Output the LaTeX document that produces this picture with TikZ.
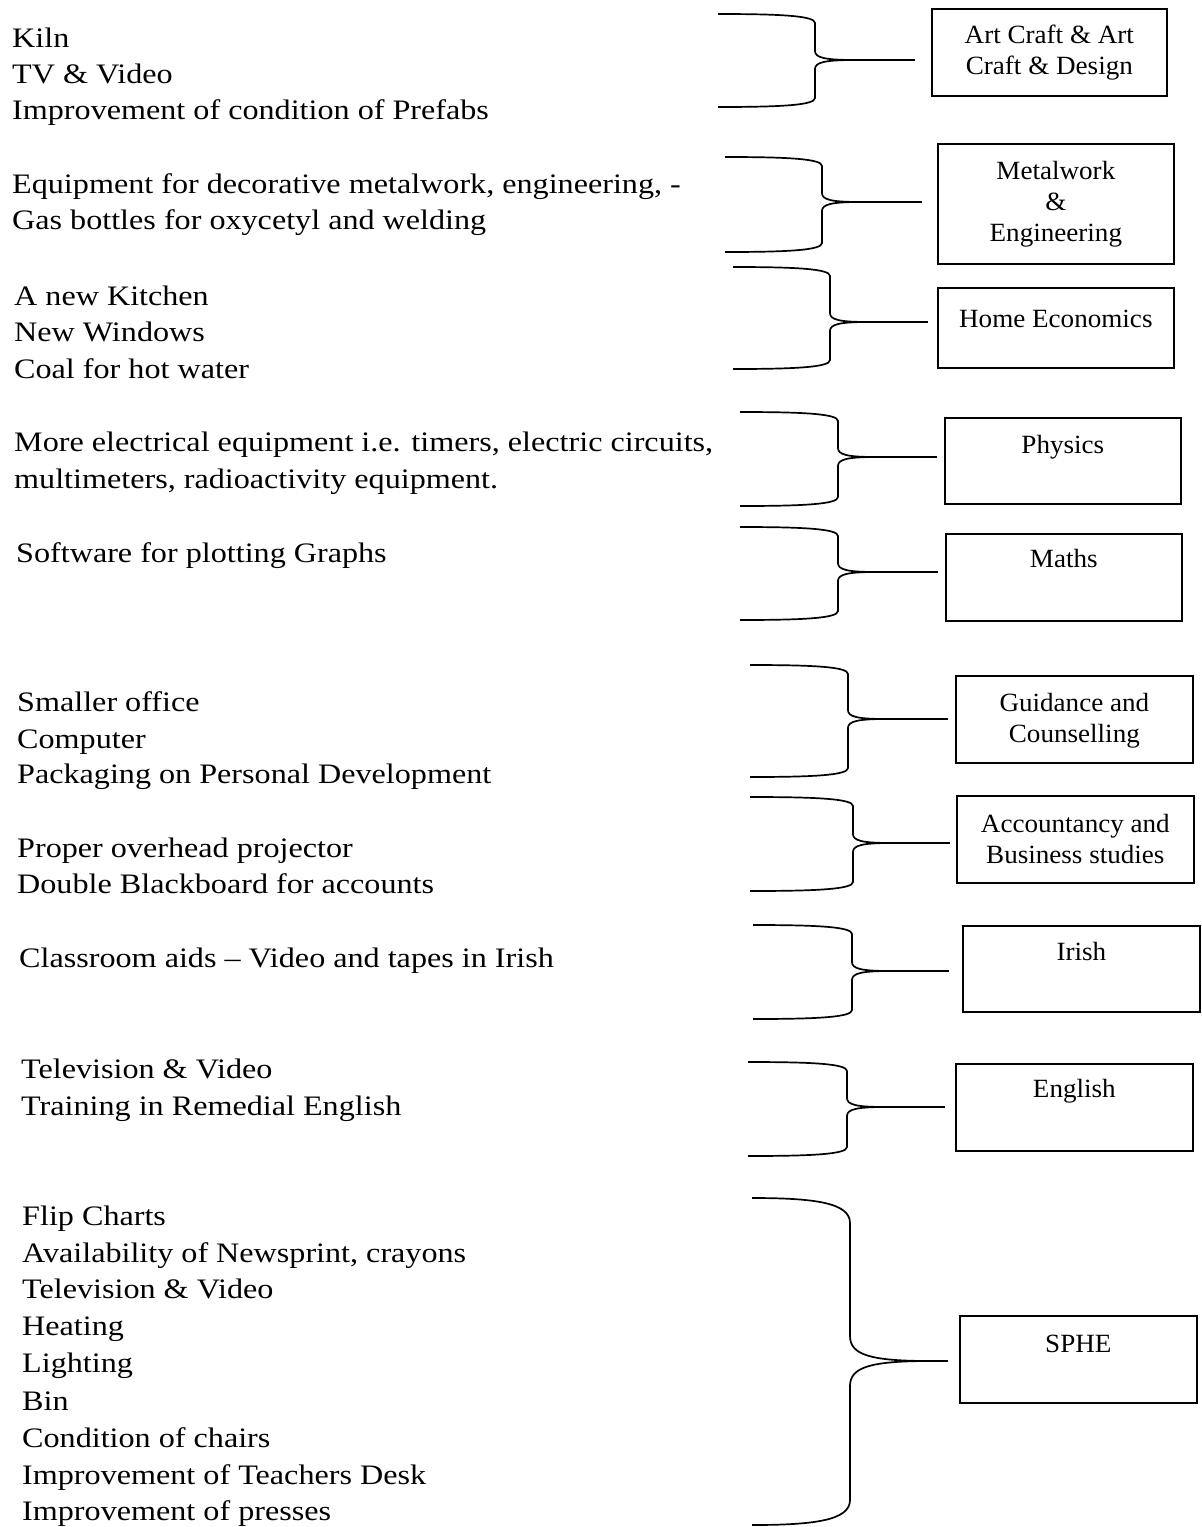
\documentclass[tikz,border=0pt]{standalone}
\usepackage{fontspec}
\setmainfont{Liberation Serif}
\newfontfamily\itemfont[FakeStretch=1.14]{Liberation Serif}
\newfontfamily\subjfont[FakeStretch=1.03]{Liberation Serif}

% curly bracket gathering a list: #1 name, #2 left x, #3 spine x,
% #4 top y, #5 middle y, #6 bottom y, #7 corner size, #8 tip length
\newcommand\subjbrace[8]{%
  \coordinate (top#1) at (#2,#4);
  \coordinate (bot#1) at (#2,#6);
  \coordinate (tip#1) at ({#3+#8},#5);
  \draw[brace] (top#1)
    .. controls ({#3-0.35*(#3-#2)},#4) and (#3,{#4+0.2*#7}) .. (#3,{#4+#7})
    -- (#3,{#5-#7})
    .. controls (#3,{#5-0.25*#7}) and ({#3+0.25*#8},#5) .. (tip#1)
    .. controls ({#3+0.25*#8},#5) and (#3,{#5+0.25*#7}) .. (#3,{#5+#7})
    -- (#3,{#6-#7})
    .. controls (#3,{#6-0.2*#7}) and ({#3-0.35*(#3-#2)},#6) .. (bot#1);
}
% subject box: #1 name, #2 x, #3 y (top left), #4 width, #5 first baseline
% below top, #6 remaining depth, #7 text
\newcommand\subjbox[7]{%
  \node[subj, minimum width=#4pt, text height=#5pt, text depth=#6pt]
    (#1) at (#2,#3) {\begin{tabular}[t]{@{}c@{}}#7\end{tabular}};
}

\begin{document}
\begin{tikzpicture}[x=1pt,y=-1pt,
  item/.style={anchor=base west, inner sep=0pt,
    font=\itemfont\fontsize{28.2}{36}\selectfont},
  subj/.style={draw, line width=1.7pt, anchor=north west, inner sep=0pt,
    font=\subjfont\fontsize{26.3}{31}\selectfont},
  brace/.style={line width=1.7pt, line join=round},
  link/.style={line width=1.7pt}]

\fill[white] (0,0) rectangle (1202,1527);
\useasboundingbox (0,0) rectangle (1202,1527);

% ---- requirement lists ----
\node[item] (g1a) at (12,47)  {Kiln};
\node[item] (g1b) at (12,83)  {TV \& Video};
\node[item] (g1c) at (12,119) {Improvement of condition of Prefabs};

\node[item] (g2a) at (12,193) {Equipment for decorative metalwork, engineering, -};
\node[item] (g2b) at (12,229) {Gas bottles for oxycetyl and welding};

\node[item] (g3a) at (14,305) {A new Kitchen};
\node[item] (g3b) at (14,341) {New Windows};
\node[item] (g3c) at (14,378) {Coal for hot water};

\node[item] (g4a) at (14,451) {More electrical equipment i.e. timers, electric circuits,};
\node[item] (g4b) at (14,488) {multimeters, radioactivity equipment.};

\node[item] (g5a) at (16,562) {Software for plotting Graphs};

\node[item] (g6a) at (17,711) {Smaller office};
\node[item] (g6b) at (17,748) {Computer};
\node[item] (g6c) at (17,783) {Packaging on Personal Development};

\node[item] (g7a) at (17,857) {Proper overhead projector};
\node[item] (g7b) at (17,893) {Double Blackboard for accounts};

\node[item] (g8a) at (19,967) {Classroom aids \textendash{} Video and tapes in Irish};

\node[item] (g9a) at (21,1078) {Television \& Video};
\node[item] (g9b) at (21,1115) {Training in Remedial English};

\node[item] (g10a) at (22,1225) {Flip Charts};
\node[item] (g10b) at (22,1262) {Availability of Newsprint, crayons};
\node[item] (g10c) at (22,1298) {Television \& Video};
\node[item] (g10d) at (22,1335) {Heating};
\node[item] (g10e) at (22,1372) {Lighting};
\node[item] (g10f) at (22,1410) {Bin};
\node[item] (g10g) at (22,1447) {Condition of chairs};
\node[item] (g10h) at (22,1484) {Improvement of Teachers Desk};
\node[item] (g10i) at (22,1520) {Improvement of presses};

% ---- subject boxes ----
\subjbox{b1}{931}{8}{235}{35}{52}{Art Craft \& Art\\Craft \& Design}
\subjbox{b2}{937}{143}{236}{36}{84}{Metalwork\\\&\\Engineering}
\subjbox{b3}{937}{287}{236}{40}{40}{Home Economics}
\subjbox{b4}{944}{417}{236}{36}{50}{Physics}
\subjbox{b5}{945}{533}{236}{34}{53}{Maths}
\subjbox{b6}{955}{675}{237}{36}{51}{Guidance and\\Counselling}
\subjbox{b7}{956}{795}{237}{37}{50}{Accountancy and\\Business studies}
\subjbox{b8}{962}{925}{237}{35}{51}{Irish}
\subjbox{b9}{955}{1063}{237}{34}{53}{English}
\subjbox{b10}{959}{1315}{237}{37}{50}{SPHE}

% ---- brackets ----
\subjbrace{1}{718}{815}{14}{60}{107}{9}{40}
\subjbrace{2}{725}{822}{157}{202}{252}{9}{38}
\subjbrace{3}{733}{830}{267}{322}{369}{9}{38}
\subjbrace{4}{740}{838}{412}{457}{506}{9}{38}
\subjbrace{5}{740}{838}{527}{572}{620}{9}{38}
\subjbrace{6}{750}{848}{665}{719}{777}{9}{38}
\subjbrace{7}{750}{853}{797}{843}{891}{9}{38}
\subjbrace{8}{753}{852}{925}{971}{1019}{9}{38}
\subjbrace{9}{748}{847}{1062}{1107}{1156}{9}{38}
\subjbrace{10}{752}{850}{1198}{1361}{1525}{25}{80}

% ---- connectors to the boxes ----
\draw[link, shorten >=16pt] (tip1) -- (tip1 -| b1.west);
\draw[link, shorten >=15pt] (tip2) -- (tip2 -| b2.west);
\draw[link, shorten >=9pt]  (tip3) -- (tip3 -| b3.west);
\draw[link, shorten >=7pt]  (tip4) -- (tip4 -| b4.west);
\draw[link, shorten >=7pt]  (tip5) -- (tip5 -| b5.west);
\draw[link, shorten >=7pt]  (tip6) -- (tip6 -| b6.west);
\draw[link, shorten >=6pt]  (tip7) -- (tip7 -| b7.west);
\draw[link, shorten >=13pt] (tip8) -- (tip8 -| b8.west);
\draw[link, shorten >=10pt] (tip9) -- (tip9 -| b9.west);
\draw[link, shorten >=11pt] (tip10) -- (tip10 -| b10.west);
\end{tikzpicture}
\end{document}
